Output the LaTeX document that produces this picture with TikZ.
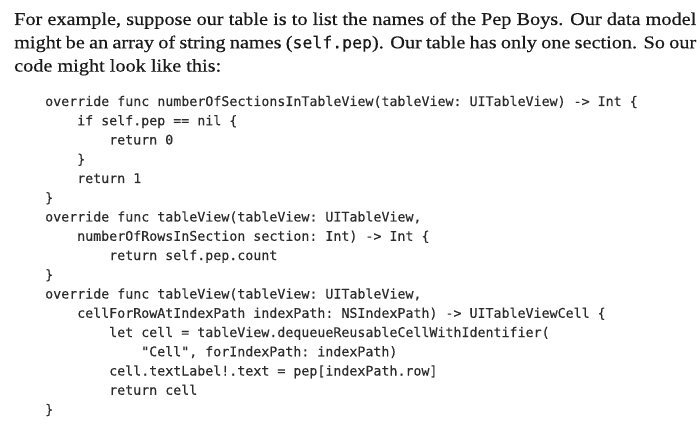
\documentclass[tikz,border=0pt]{standalone}
\usepackage{fontspec}
\setmainfont{Liberation Serif}[FakeStretch=1.125,FakeBold=0.4]
\setmonofont{DejaVu Sans Mono}[FakeBold=0.3]
\definecolor{bodyink}{HTML}{1A1A1A}
\definecolor{codeink}{HTML}{2C2C2C}
\begin{document}
\begin{tikzpicture}[x=1pt,y=-1pt,
  prose/.style={anchor=base west,inner sep=0pt,text=bodyink,font=\fontsize{18}{22}\selectfont},
  codeline/.style={anchor=base west,inner sep=0pt,text=codeink,font=\fontsize{13.3}{16}\ttfamily}]
\useasboundingbox[fill=white] (0,0) rectangle (700,427);
% paragraph
\node[prose] (p1) at (14,25) {\makebox[682pt][s]{For example, suppose our table is to list the names of the Pep Boys. Our data model}};
\node[prose] (p2) at (14,48.3) {\makebox[682pt][s]{might be an array of string names ({\fontsize{16.5}{20}\ttfamily self.pep}). Our table has only one section. So our}};
\node[prose] (p3) at (14,71.6) {code might look like this:};
% code
\def\pitch{19.25}
\node[codeline] (c1)  at (45, 106+0*\pitch) {override func numberOfSectionsInTableView(tableView: UITableView) -> Int \{};
\node[codeline] (c2)  at (77, 106+1*\pitch) {if self.pep == nil \{};
\node[codeline] (c3)  at (109,106+2*\pitch) {return 0};
\node[codeline] (c4)  at (77, 106+3*\pitch) {\}};
\node[codeline] (c5)  at (77, 106+4*\pitch) {return 1};
\node[codeline] (c6)  at (45, 106+5*\pitch) {\}};
\node[codeline] (c7)  at (45, 106+6*\pitch) {override func tableView(tableView: UITableView,};
\node[codeline] (c8)  at (77, 106+7*\pitch) {numberOfRowsInSection section: Int) -> Int \{};
\node[codeline] (c9)  at (109,106+8*\pitch) {return self.pep.count};
\node[codeline] (c10) at (45, 106+9*\pitch) {\}};
\node[codeline] (c11) at (45, 106+10*\pitch) {override func tableView(tableView: UITableView,};
\node[codeline] (c12) at (77, 106+11*\pitch) {cellForRowAtIndexPath indexPath: NSIndexPath) -> UITableViewCell \{};
\node[codeline] (c13) at (109,106+12*\pitch) {let cell = tableView.dequeueReusableCellWithIdentifier(};
\node[codeline] (c14) at (141,106+13*\pitch) {"Cell", forIndexPath: indexPath)};
\node[codeline] (c15) at (109,106+14*\pitch) {cell.textLabel!.text = pep[indexPath.row]};
\node[codeline] (c16) at (109,106+15*\pitch) {return cell};
\node[codeline] (c17) at (45, 106+16*\pitch) {\}};
\end{tikzpicture}
\end{document}
